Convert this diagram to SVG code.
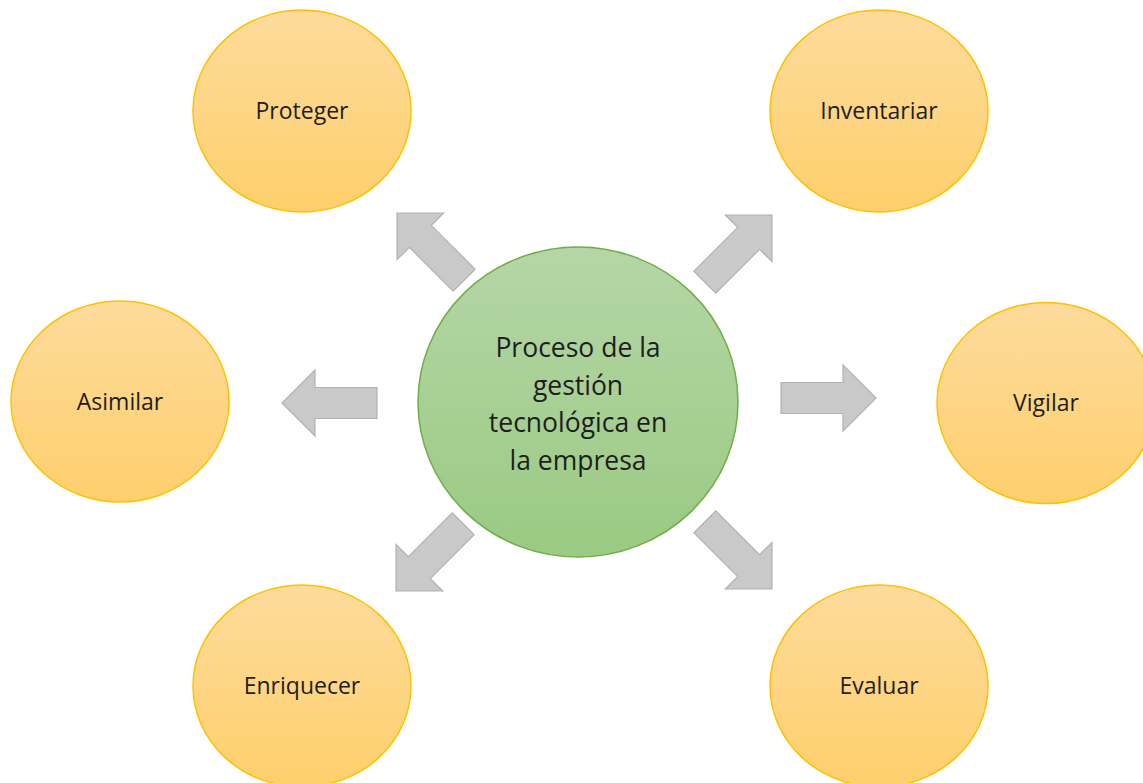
<svg xmlns="http://www.w3.org/2000/svg" width="1143" height="783" viewBox="0 0 1143 783">
<defs>
<linearGradient id="og" x1="0" y1="0" x2="0" y2="1">
<stop offset="0" stop-color="#FDDB9C"/>
<stop offset="1" stop-color="#FECF6C"/>
</linearGradient>
<linearGradient id="gg" x1="0" y1="0" x2="0" y2="1">
<stop offset="0" stop-color="#B5D6A6"/>
<stop offset="1" stop-color="#9ACA83"/>
</linearGradient>
<path id="arr" d="M0,0 L-33,-33 L-33,-15.5 L-95,-15.5 L-95,15.5 L-33,15.5 L-33,33 Z"/>
</defs>
<style>
.o{fill:url(#og);stroke:#FFC000;stroke-width:1.5}
.c{fill:url(#gg);stroke:#70AD47;stroke-width:1.5}
.a{fill:#C9C9C9;stroke:#B2B2B2;stroke-width:1.2}
.t{font-family:"Open Sans","Liberation Sans",sans-serif;font-size:23px;fill:#1E1E1E;text-anchor:middle}
.tc{font-family:"Open Sans","Liberation Sans",sans-serif;font-size:26.5px;fill:#1E1E1E;text-anchor:middle}
</style>
<rect width="1143" height="783" fill="#FFFFFF"/>
<g id="connectors">
<use href="#arr" class="a" transform="translate(876,398)"/>
<use href="#arr" class="a" transform="translate(282,403) rotate(180)"/>
<use href="#arr" class="a" transform="translate(397,213) rotate(-135)"/>
<use href="#arr" class="a" transform="translate(772,215) rotate(-45)"/>
<use href="#arr" class="a" transform="translate(396,591) rotate(135)"/>
<use href="#arr" class="a" transform="translate(772,589) rotate(45)"/>
</g>
<g id="center">
<ellipse class="c" cx="578" cy="402" rx="160" ry="155"/>
<text class="tc" x="578" y="357">Proceso de la</text>
<text class="tc" x="578" y="394.5">gestión</text>
<text class="tc" x="578" y="432">tecnológica en</text>
<text class="tc" x="578" y="469.5">la empresa</text>
</g>
<g id="proteger">
<ellipse class="o" cx="302" cy="111" rx="109" ry="101"/>
<text class="t" x="302" y="119">Proteger</text>
</g>
<g id="inventariar">
<ellipse class="o" cx="879" cy="111" rx="109" ry="101"/>
<text class="t" x="879" y="119">Inventariar</text>
</g>
<g id="asimilar">
<ellipse class="o" cx="120" cy="401.5" rx="109" ry="100.5"/>
<text class="t" x="120" y="409.5">Asimilar</text>
</g>
<g id="vigilar">
<ellipse class="o" cx="1046" cy="403" rx="109" ry="100.5"/>
<text class="t" x="1046" y="411">Vigilar</text>
</g>
<g id="enriquecer">
<ellipse class="o" cx="302" cy="686" rx="109" ry="101"/>
<text class="t" x="302" y="694">Enriquecer</text>
</g>
<g id="evaluar">
<ellipse class="o" cx="879" cy="686" rx="109" ry="101"/>
<text class="t" x="879" y="694">Evaluar</text>
</g>
</svg>
